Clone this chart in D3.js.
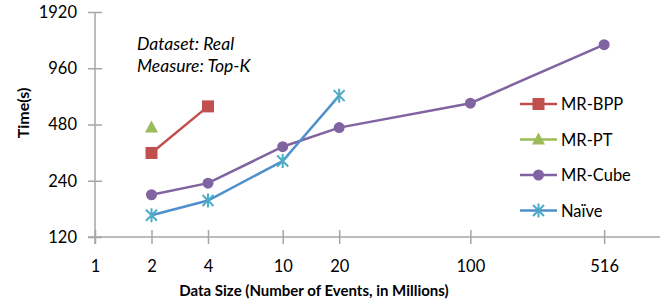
<!DOCTYPE html>
<html><head><meta charset="utf-8">
<script src="https://cdn.jsdelivr.net/npm/d3@7"></script>
<style>body{margin:0;background:#fff}svg{display:block}text{font-family:Lato,"Open Sans",sans-serif}</style>
</head><body>
<svg id="c" width="667" height="306"></svg>
<script>
const xTicks = [1, 2, 4, 10, 20, 100, 516];
const yTicks = [120, 240, 480, 960, 1920];
const bppX = [2, 4], bppY = [338, 600];
const ptX = [2], ptY = [462];
const cubeX = [2, 4, 10, 20, 100, 516], cubeY = [202, 233, 365, 462, 624, 1284];
const naiveX = [2, 4, 10, 20], naiveY = [157, 188, 306, 685];
const seriesNames = ["MR-BPP", "MR-PT", "MR-Cube", "Naïve"];

const svg = d3.select("#c");
const x = d3.scaleLog().base(2).domain([1, 1024]).range([95, 660]);
const y = d3.scaleLog().base(2).domain([120, 1920]).range([237, 12]);
const axisCol = "#a6a6a6";

// axes
const gx = svg.append("g").attr("transform", "translate(0,237)")
  .call(d3.axisBottom(x).tickValues(xTicks).tickFormat(d3.format("d")).tickSize(7).tickSizeOuter(0));
gx.select(".domain").attr("stroke", axisCol).attr("stroke-width", 1.5).attr("d", "M88,0H660");
gx.selectAll(".tick line").attr("stroke", axisCol).attr("stroke-width", 1.5).attr("y1", -7);
gx.selectAll(".tick text").attr("y", 35).attr("dy", null).attr("fill", "#000").style("font-size", "16.5px");

const gy = svg.append("g").attr("transform", "translate(95,0)")
  .call(d3.axisLeft(y).tickValues(yTicks).tickFormat(d3.format("d")).tickSize(7).tickSizeOuter(0));
gy.select(".domain").attr("stroke", axisCol).attr("stroke-width", 1.5).attr("d", "M0,12V244");
gy.selectAll(".tick line").attr("stroke", axisCol).attr("stroke-width", 1.5).attr("x1", 7).attr("x2", -7);
gy.selectAll(".tick text").attr("x", -18).attr("fill", "#000").style("font-size", "16.5px");

// titles
svg.append("text").attr("x", 314).attr("y", 296).attr("text-anchor", "middle")
  .style("font-size", "15px").style("font-weight", "bold").text("Data Size (Number of Events, in Millions)");
svg.append("text").attr("transform", "translate(29,113) rotate(-90)").attr("text-anchor", "middle")
  .style("font-size", "16px").style("font-weight", "bold").text("Time(s)");
svg.append("text").attr("x", 137).attr("y", 50).style("font-size", "17.5px").style("font-style", "italic").text("Dataset: Real");
svg.append("text").attr("x", 137).attr("y", 72).style("font-size", "17.5px").style("font-style", "italic").text("Measure: Top-K");

const line = d3.line().x(d => x(d[0])).y(d => y(d[1]));
function drawMarker(g, type, cx, cy, col) {
  if (type === "sq") g.append("rect").attr("x", cx - 6).attr("y", cy - 6).attr("width", 12).attr("height", 12).attr("fill", col);
  else if (type === "tri") g.append("path").attr("d", `M${cx},${cy-7}L${cx+6.5},${cy+5}L${cx-6.5},${cy+5}Z`).attr("fill", col);
  else if (type === "circ") g.append("circle").attr("cx", cx).attr("cy", cy).attr("r", 5.5).attr("fill", col);
  else if (type === "star") {
    const p = `M${cx-5.5},${cy-5.5}L${cx+5.5},${cy+5.5}M${cx-5.5},${cy+5.5}L${cx+5.5},${cy-5.5}M${cx},${cy-7}V${cy+7}`;
    g.append("path").attr("d", p).attr("stroke", col).attr("stroke-width", 2).attr("fill", "none");
  }
}
const series = [
  {name: seriesNames[0], xs: bppX, ys: bppY, col: "#c0504d", mcol: "#c0504d", m: "sq"},
  {name: seriesNames[1], xs: ptX, ys: ptY, col: "#9bbb59", mcol: "#9bbb59", m: "tri"},
  {name: seriesNames[2], xs: cubeX, ys: cubeY, col: "#8064a2", mcol: "#8064a2", m: "circ"},
  {name: seriesNames[3], xs: naiveX, ys: naiveY, col: "#4f8fcc", mcol: "#4bacc6", m: "star"}
];
const order = [2, 3, 0, 1];
order.forEach(i => {
  const s = series[i];
  const pts = s.xs.map((v, k) => [v, s.ys[k]]);
  const g = svg.append("g");
  g.append("path").attr("d", line(pts)).attr("fill", "none").attr("stroke", s.col).attr("stroke-width", 2.5);
  pts.forEach(p => drawMarker(g, s.m, x(p[0]), y(p[1]), s.mcol));
});

// legend
series.forEach((s, i) => {
  const ly = 104 + i * 35.5;
  const g = svg.append("g");
  g.append("line").attr("x1", 520).attr("x2", 557).attr("y1", ly).attr("y2", ly).attr("stroke", s.col).attr("stroke-width", 2.5);
  drawMarker(g, s.m, 538.5, ly, s.mcol);
  g.append("text").attr("x", 561).attr("y", ly + 6).style("font-size", "16.5px").text(s.name);
});
</script>
</body></html>
